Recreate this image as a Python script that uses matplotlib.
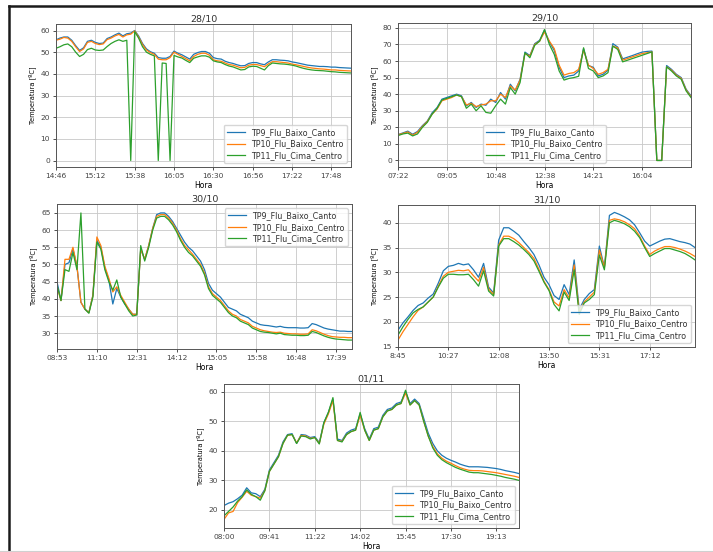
import matplotlib
matplotlib.use("Agg")
import matplotlib.pyplot as plt
from matplotlib.lines import Line2D
from matplotlib.ticker import MultipleLocator

# ---------------------------------------------------------------- data
series_names = ["TP9_Flu_Baixo_Canto", "TP10_Flu_Baixo_Centro", "TP11_Flu_Cima_Centro"]

# 28/10
labels_28 = ["14:46", "15:12", "15:38", "16:05", "16:30", "16:56", "17:22", "17:48"]
tp9_28 = [55.7, 56.5, 57.0, 57.0, 55.5, 53.0, 50.8, 52.0, 55.0, 55.5,
          54.5, 54.0, 54.2, 56.3, 57.0, 58.0, 58.8, 57.5, 58.5, 58.8,
          60.0, 57.5, 54.0, 51.5, 50.2, 49.5, 47.5, 47.2, 47.2, 48.0,
          50.5, 49.5, 48.8, 47.8, 46.8, 49.0, 49.8, 50.3, 50.3, 49.5,
          47.5, 47.0, 46.8, 45.8, 45.2, 44.8, 44.2, 43.7, 43.8, 44.8,
          45.2, 45.2, 44.6, 44.2, 45.5, 46.5, 46.5, 46.3, 46.2, 46.0,
          45.5, 45.2, 44.8, 44.4, 44.0, 43.8, 43.6, 43.4, 43.4, 43.3,
          43.1, 43.1, 42.9, 42.8, 42.7, 42.6]
tp10_28 = [55.5, 56.0, 56.8, 56.5, 55.0, 52.5, 50.3, 51.5, 54.5, 55.0,
           54.0, 53.5, 53.8, 55.8, 56.5, 57.5, 58.2, 57.0, 58.0, 58.3,
           59.8, 57.0, 53.5, 51.0, 49.8, 49.0, 46.8, 46.5, 46.5, 47.5,
           50.0, 49.0, 48.0, 47.0, 46.0, 48.0, 49.0, 49.5, 49.5, 48.6,
           46.5, 46.0, 45.8, 45.0, 44.3, 44.0, 43.4, 42.8, 43.0, 44.0,
           44.3, 44.3, 43.8, 43.3, 44.6, 45.6, 45.6, 45.4, 45.2, 45.0,
           44.5, 44.2, 43.8, 43.4, 43.0, 42.7, 42.5, 42.3, 42.2, 42.0,
           41.8, 41.8, 41.6, 41.5, 41.4, 41.3]
tp11_28 = [51.8, 52.5, 53.4, 53.8, 52.5, 50.0, 48.0, 49.0, 51.2, 51.8,
           51.0, 50.8, 51.0, 52.6, 54.0, 55.0, 55.7, 55.0, 55.5, 0.0,
           59.5, 56.5, 52.5, 50.0, 49.0, 48.3, 0.0, 45.0, 44.8, 0.0,
           48.5, 47.8, 47.3, 46.2, 45.2, 47.2, 47.8, 48.3, 48.3, 47.7,
           46.0, 45.5, 45.2, 44.3, 43.6, 43.2, 42.5, 41.8, 42.0, 43.2,
           43.5, 43.4, 42.6, 41.8, 43.8, 45.0, 44.8, 44.6, 44.5, 44.3,
           44.0, 43.6, 43.0, 42.5, 42.1, 41.8, 41.6, 41.5, 41.4, 41.2,
           41.0, 40.9, 40.7, 40.6, 40.5, 40.4]

# 29/10
labels_29 = ["07:22", "09:05", "10:48", "12:38", "14:21", "16:04"]
tp9_29 = [15.6, 16.6, 17.7, 15.8, 17.5, 21.0, 23.8, 28.8, 31.9, 37.0,
          38.0, 39.0, 40.0, 39.0, 33.0, 35.0, 32.0, 34.0, 33.3, 37.0,
          35.0, 41.0, 37.0, 46.0, 42.0, 49.0, 65.4, 63.3, 70.5, 72.5,
          78.6, 71.5, 66.4, 56.2, 50.0, 51.0, 51.5, 54.0, 67.4, 57.3,
          56.2, 51.0, 52.0, 54.5, 70.5, 68.4, 61.3, 62.3, 63.3, 64.4,
          65.4, 65.8, 66.0, 0.0, 0.0, 57.3, 55.0, 52.0, 50.0, 43.0,
          39.0]
tp10_29 = [15.5, 16.3, 17.2, 15.3, 17.0, 20.5, 23.5, 28.0, 31.0, 36.0,
           37.0, 38.0, 39.5, 38.5, 33.5, 34.5, 32.5, 33.5, 34.0, 36.0,
           36.0, 40.0, 38.0, 45.0, 42.5, 48.5, 64.5, 63.0, 70.0, 72.0,
           77.5, 72.0, 67.5, 57.5, 51.5, 52.5, 53.0, 55.0, 66.5, 57.5,
           55.5, 52.0, 53.0, 55.0, 69.0, 68.0, 60.5, 61.5, 62.5, 63.5,
           64.5, 65.0, 65.5, 0.0, 0.0, 56.5, 54.5, 51.5, 49.5, 42.5,
           38.5]
tp11_29 = [15.0, 16.0, 16.5, 14.8, 16.0, 20.0, 23.0, 28.0, 31.5, 36.5,
           37.5, 38.5, 39.5, 38.5, 31.5, 34.0, 30.0, 33.0, 29.0, 28.5,
           33.0, 37.0, 34.0, 44.0, 40.0, 47.0, 65.0, 62.0, 69.5, 72.0,
           79.0, 70.0, 64.0, 54.0, 48.5, 49.5, 50.0, 50.8, 68.0, 55.5,
           54.0, 50.0, 51.0, 53.0, 69.0, 67.0, 59.5, 60.5, 61.5, 62.5,
           63.5, 64.5, 65.5, 0.0, 0.0, 56.5, 54.0, 51.0, 49.0, 42.0,
           38.0]

# 30/10
labels_30 = ["08:53", "11:10", "12:31", "14:12", "15:05", "15:58", "16:48", "17:39"]
tp9_30 = [45.0, 39.5, 50.0, 50.5, 54.5, 49.5, 39.0, 37.0, 36.0, 41.0,
          57.0, 55.0, 49.0, 45.5, 38.5, 43.0, 40.5, 38.5, 37.0, 35.5,
          35.5, 54.5, 51.5, 55.5, 60.5, 64.5, 65.0, 65.0, 64.0, 62.5,
          60.5, 58.5, 56.5, 55.0, 54.0, 52.5, 51.0, 48.5, 44.5, 42.5,
          41.5, 40.5, 39.0, 37.5, 37.0, 36.5, 35.5, 35.0, 34.5, 33.5,
          33.0, 32.5, 32.3, 32.2, 32.0, 31.8, 32.0, 31.7, 31.6, 31.6,
          31.6, 31.5, 31.5, 31.6, 32.8, 32.5, 32.0, 31.5, 31.2, 31.0,
          30.8, 30.6, 30.6, 30.5, 30.5]
tp10_30 = [43.5, 39.5, 51.5, 51.5, 55.0, 49.5, 39.0, 37.0, 36.0, 41.0,
           58.0, 55.5, 49.5, 46.0, 42.0, 43.5, 41.0, 39.0, 37.0, 35.5,
           35.5, 54.5, 51.5, 55.5, 60.5, 64.0, 64.5, 64.5, 63.5, 62.0,
           60.0, 57.5, 55.5, 54.3, 53.0, 51.5, 50.0, 47.5, 43.5, 41.5,
           40.5, 39.5, 38.0, 36.5, 35.5, 35.0, 34.0, 33.5, 33.0, 32.0,
           31.5, 31.0, 30.7, 30.5, 30.3, 30.2, 30.3, 30.0, 29.9, 29.8,
           29.8, 29.7, 29.7, 29.8, 31.0, 30.7, 30.2, 29.7, 29.3, 29.0,
           28.9, 28.8, 28.8, 28.7, 28.7]
tp11_30 = [44.0, 39.5, 48.5, 48.0, 53.5, 48.5, 65.0, 37.0, 35.8, 40.5,
           56.5, 54.5, 48.5, 45.0, 42.5, 45.5, 40.5, 38.5, 36.5, 35.0,
           35.3, 55.5, 51.0, 55.0, 60.0, 63.5, 64.0, 64.0, 63.0, 61.5,
           59.5, 57.0, 55.0, 53.5, 52.5, 51.0, 49.5, 47.0, 43.0, 41.0,
           40.0, 39.0, 37.5, 36.0, 35.0, 34.5, 33.5, 33.0, 32.5, 31.5,
           31.0, 30.5, 30.3, 30.2, 30.0, 29.8, 30.0, 29.6, 29.5, 29.4,
           29.4, 29.3, 29.3, 29.4, 30.5, 30.2, 29.7, 29.2, 28.8, 28.5,
           28.3, 28.2, 28.1, 28.0, 28.0]

# 31/10
labels_31 = ["8:45", "10:27", "12:08", "13:50", "15:31", "17:12"]
tp9_31 = [18.3, 19.8, 21.0, 22.3, 23.3, 23.8, 24.8, 25.6, 27.8, 30.3,
          31.2, 31.4, 31.8, 31.5, 31.7, 30.5, 29.0, 31.8, 27.0, 25.8,
          36.5, 39.0, 39.0, 38.3, 37.5, 36.2, 35.0, 33.6, 31.5, 29.0,
          27.5, 25.3, 24.5, 27.5, 25.5, 32.5, 22.5, 24.5, 25.7, 26.5,
          35.3, 31.0, 41.5, 42.1, 41.7, 41.2, 40.6, 39.6, 38.0, 36.3,
          35.3, 35.8, 36.3, 36.7, 36.8, 36.5, 36.2, 36.0, 35.7, 35.0]
tp10_31 = [16.3, 18.0, 19.5, 21.0, 22.3, 23.0, 24.0, 25.0, 27.2, 29.2,
           30.0, 30.2, 30.4, 30.3, 30.5, 29.3, 28.2, 31.0, 26.6, 25.5,
           35.5, 37.3, 37.3, 36.8, 36.0, 35.0, 34.0, 32.8, 30.6, 28.2,
           26.5, 24.0, 23.2, 26.5, 24.8, 31.5, 22.0, 24.0, 25.0, 26.0,
           34.5, 31.0, 40.5, 40.8, 40.6, 40.2, 39.6, 38.8, 37.3, 35.3,
           33.6, 34.3, 34.8, 35.2, 35.2, 35.0, 34.7, 34.3, 33.8, 33.2]
tp11_31 = [17.3, 19.0, 20.5, 21.8, 22.5, 23.0, 24.0, 25.0, 27.0, 28.8,
           29.6, 29.6, 29.5, 29.5, 29.6, 28.5, 27.2, 30.3, 26.2, 25.2,
           35.3, 36.8, 36.8, 36.2, 35.5, 34.6, 33.6, 32.3, 30.2, 28.0,
           26.3, 23.5, 22.2, 26.0, 24.3, 30.5, 21.5, 23.8, 24.5, 25.5,
           33.5, 30.5, 40.0, 40.5, 40.2, 39.8, 39.2, 38.3, 37.0, 35.0,
           33.2, 33.8, 34.3, 34.8, 34.8, 34.5, 34.2, 33.8, 33.2, 32.5]

# 01/11
labels_01 = ["08:00", "09:41", "11:22", "14:02", "15:45", "17:30", "19:13"]
tp9_01 = [21.5, 22.3, 22.8, 23.8, 25.0, 27.5, 25.8, 25.5, 24.5, 27.0,
          33.5, 36.0, 38.5, 43.0, 45.5, 45.8, 42.5, 45.5, 45.3, 44.5,
          44.8, 42.8, 49.5, 53.0, 57.5, 44.0, 43.5, 46.0, 47.0, 47.5,
          52.5, 47.5, 44.0, 47.5, 48.0, 52.0, 54.0, 54.5, 56.0, 56.5,
          60.0, 56.0, 57.5, 56.0, 51.0, 46.0, 42.5, 40.0, 38.5, 37.5,
          36.8, 36.2, 35.5, 35.0, 34.6, 34.6, 34.6, 34.5, 34.4, 34.2,
          34.0, 33.7, 33.3, 33.0, 32.7, 32.3]
tp10_01 = [16.8, 19.0, 19.5, 22.5, 24.3, 26.3, 25.0, 24.5, 24.0, 26.5,
           33.0, 35.5, 38.0, 42.5, 45.2, 45.5, 42.7, 45.2, 45.0, 44.2,
           44.5, 42.5, 49.0, 52.5, 57.0, 43.5, 43.2, 45.5, 46.5, 47.0,
           52.0, 47.0, 43.5, 47.0, 47.5, 51.5, 53.5, 54.0, 55.5, 56.0,
           59.5, 55.5, 57.0, 55.5, 50.0, 45.0, 41.5, 39.0, 37.5, 36.5,
           35.8, 35.0, 34.3, 33.8, 33.4, 33.3, 33.3, 33.2, 33.0, 32.8,
           32.6, 32.3, 32.0, 31.7, 31.4, 31.0]
tp11_01 = [18.0, 19.5, 21.0, 23.0, 24.5, 26.8, 25.3, 24.5, 23.3, 26.5,
           33.0, 35.5, 38.0, 42.5, 45.3, 45.5, 42.5, 45.0, 44.8, 44.0,
           44.5, 42.3, 49.5, 53.0, 58.0, 43.5, 43.0, 45.5, 46.5, 47.0,
           53.0, 47.0, 43.5, 47.0, 47.5, 51.5, 53.5, 54.0, 55.5, 56.0,
           60.5, 55.5, 57.0, 55.5, 50.0, 45.0, 41.0, 38.5, 37.0, 36.0,
           35.2, 34.4, 33.8, 33.3, 32.8, 32.6, 32.6, 32.4, 32.2, 32.0,
           31.7, 31.4, 31.0, 30.7, 30.4, 30.0]

# ---------------------------------------------------------------- layout
W, H = 713, 552
TICK_EVERY = 10  # samples between labelled time ticks

plt.rcParams.update({
    "font.family": "DejaVu Sans",
    "font.size": 5.4,
    "axes.linewidth": 0.7,
    "grid.color": "#c8c8c8",
    "grid.linewidth": 0.6,
    "xtick.major.size": 2.5,
    "ytick.major.size": 2.5,
    "xtick.major.pad": 2,
    "ytick.major.pad": 2,
    "xtick.major.width": 0.6,
    "ytick.major.width": 0.6,
})

fig = plt.figure(figsize=(W / 100, H / 100), dpi=100)
fig.patch.set_facecolor("white")


def px_axes(left, top, right, bottom):
    return fig.add_axes([left / W, 1 - bottom / H, (right - left) / W, (bottom - top) / H])


panels = [
    # title, box (l, t, r, b), time labels, series, y step, ylim, legend loc
    ("28/10", (56, 24, 351, 167), labels_28, (tp9_28, tp10_28, tp11_28), 10, None, "lower right"),
    ("29/10", (398, 23, 691, 167), labels_29, (tp9_29, tp10_29, tp11_29), 10, None, "lower center"),
    ("30/10", (57, 204, 352, 349), labels_30, (tp9_30, tp10_30, tp11_30), 5, (25.4, 67.6), "upper right"),
    ("31/10", (398, 205, 695, 347), labels_31, (tp9_31, tp10_31, tp11_31), 5, (14.9, 43.6), "lower right"),
    ("01/11", (224, 384, 519, 528), labels_01, (tp9_01, tp10_01, tp11_01), 10, (13.9, 62.6), "lower right"),
]

colors = ["#1f77b4", "#ff7f0e", "#2ca02c"]

for title, box, tlabels, series, ystep, ylim, loc in panels:
    ax = px_axes(*box)
    n = len(series[0])
    idx = list(range(n))
    for vals, name, c in zip(series, series_names, colors):
        ax.plot(idx, vals, color=c, lw=0.9, label=name)
    ax.set_xlim(0, n - 1)
    ax.set_xticks([k * TICK_EVERY for k in range(len(tlabels))])
    ax.set_xticklabels(tlabels)
    ax.yaxis.set_major_locator(MultipleLocator(ystep))
    if ylim is not None:
        ax.set_ylim(*ylim)
    ax.grid(True)
    ax.set_axisbelow(True)
    ax.set_title(title, fontsize=6.8, pad=2, color="#333333")
    ax.set_xlabel("Hora", fontsize=5.5, labelpad=1.5)
    ax.set_ylabel("Temperatura [ºC]", fontsize=4.8, labelpad=3)
    ax.tick_params(colors="#333333", labelcolor="#444444")
    for sp in ax.spines.values():
        sp.set_color("#555555")
    leg = ax.legend(loc=loc, fontsize=5.8, handlelength=2.2, borderpad=0.4,
                    labelspacing=0.3, framealpha=0.8)
    for txt in leg.get_texts():
        txt.set_color("#333333")

# page frame around the figure
fig.add_artist(Line2D([8.5 / W, 1.0], [1 - 6 / H, 1 - 6 / H], transform=fig.transFigure,
                      color="#1a1a1a", lw=1.8))
fig.add_artist(Line2D([8.5 / W, 8.5 / W], [1 - 6 / H, 0.0], transform=fig.transFigure,
                      color="#1a1a1a", lw=1.8))
fig.add_artist(Line2D([0.0, 1.0], [1 - 551 / H, 1 - 551 / H], transform=fig.transFigure,
                      color="#d0d0d0", lw=0.8))

fig.savefig("out.png", dpi=100, facecolor="white")
